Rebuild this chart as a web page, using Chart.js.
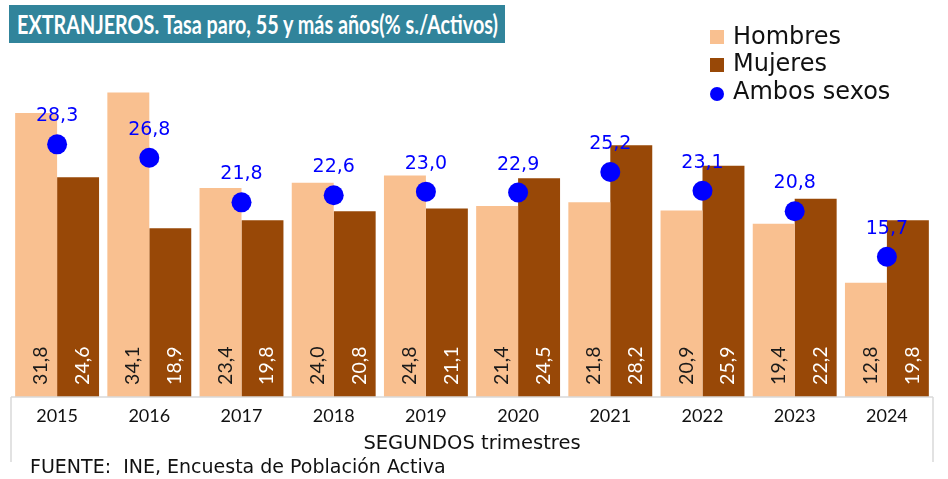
<!DOCTYPE html>
<html><head><meta charset="utf-8">
<script src="https://cdn.jsdelivr.net/npm/chart.js@4/dist/chart.umd.min.js"></script>
<style>
html,body{margin:0;padding:0;background:#fff;}
#wrap{position:relative;width:948px;height:479px;overflow:hidden;}
canvas{position:absolute;left:0;top:0;}
#title{position:absolute;left:9px;top:5px;width:496px;height:38px;background:#31849B;color:#fff;font-family:Lato;font-weight:bold;font-size:26px;line-height:38px;white-space:nowrap;padding-left:8px;box-sizing:border-box;}
#title span{display:inline-block;transform-origin:0 50%;}
.leg{position:absolute;left:733px;font-family:"DejaVu Sans";font-size:24px;line-height:28px;color:#111;white-space:nowrap;}
.sw{position:absolute;left:710px;width:14px;height:14px;}
#src{position:absolute;left:30px;top:454px;font-family:"DejaVu Sans";font-size:19px;line-height:24px;color:#111;white-space:nowrap;}
</style></head>
<body>
<div id="wrap">
<canvas id="c" width="948" height="479"></canvas>
<div id="title"><span id="tt">EXTRANJEROS. Tasa paro, 55 y más años(% s./Activos)</span></div>
<div class="sw" style="top:30px;background:#F9C090"></div><div class="leg" style="top:22px">Hombres</div>
<div class="sw" style="top:58px;background:#984807"></div><div class="leg" style="top:49px">Mujeres</div>
<div class="sw" style="top:87px;border-radius:50%;background:#0000FF"></div><div class="leg" style="top:77px">Ambos sexos</div>
<div id="src">FUENTE:&nbsp; INE, Encuesta de Población Activa</div>
</div>
<script>
const categories = ['2015','2016','2017','2018','2019','2020','2021','2022','2023','2024'];
const hombres = [31.8,34.1,23.4,24.0,24.8,21.4,21.8,20.9,19.4,12.8];
const mujeres = [24.6,18.9,19.8,20.8,21.1,24.5,28.2,25.9,22.2,19.8];
const ambos = [28.3,26.8,21.8,22.6,23.0,22.9,25.2,23.1,20.8,15.7];
const axisTitle = 'SEGUNDOS trimestres';

// fit title width
(function(){
  const s=document.getElementById('tt');
  const w=s.getBoundingClientRect().width;
  s.style.transform='scaleX('+(481/w)+')';
})();

const fmt = v => v.toFixed(1).replace('.', ',');

const labelPlugin = {
  id:'vlabels',
  afterDatasetsDraw(chart){
    const ctx = chart.ctx;
    [0,1].forEach(di=>{
      const meta = chart.getDatasetMeta(di);
      meta.data.forEach((bar,i)=>{
        const v = chart.data.datasets[di].data[i];
        ctx.save();
        ctx.translate(bar.x + 11, bar.base - 12);
        ctx.rotate(-Math.PI/2);
        ctx.font = '19.5px Lato';
        ctx.fillStyle = di===0 ? '#1a1a1a' : '#ffffff';
        ctx.textAlign = 'left';
        ctx.textBaseline = 'alphabetic';
        ctx.fillText(fmt(v), 0, 0);
        ctx.restore();
      });
    });
    const meta = chart.getDatasetMeta(2);
    meta.data.forEach((pt,i)=>{
      const v = chart.data.datasets[2].data[i];
      ctx.save();
      ctx.font = '19px "DejaVu Sans"';
      ctx.fillStyle = '#0000FF';
      ctx.textAlign = 'center';
      ctx.textBaseline = 'alphabetic';
      ctx.fillText(fmt(v), pt.x, pt.y - 23);
      ctx.restore();
    });
  }
};

const boxPlugin = {
  id:'axisbox',
  afterDraw(chart){
    const ctx = chart.ctx, a = chart.chartArea;
    ctx.save();
    ctx.strokeStyle = '#D9D9D9';
    ctx.lineWidth = 1.5;
    ctx.beginPath();
    ctx.moveTo(a.left, a.bottom); ctx.lineTo(a.right, a.bottom);
    ctx.moveTo(a.left, a.bottom); ctx.lineTo(a.left, a.bottom + 65);
    ctx.moveTo(a.right, a.bottom); ctx.lineTo(a.right, a.bottom + 65);
    ctx.stroke();
    ctx.restore();
  }
};

new Chart(document.getElementById('c'), {
  type:'bar',
  data:{
    labels: categories,
    datasets:[
      {label:'Hombres', data:hombres, backgroundColor:'#F9C090', order:2, categoryPercentage:0.91, barPercentage:1.0},
      {label:'Mujeres', data:mujeres, backgroundColor:'#984807', order:2, categoryPercentage:0.91, barPercentage:1.0},
      {label:'Ambos sexos', type:'line', data:ambos, showLine:false, pointRadius:10, pointHoverRadius:10, pointBackgroundColor:'#0000FF', pointBorderWidth:0, backgroundColor:'#0000FF', borderColor:'#0000FF', order:0}
    ]
  },
  options:{
    responsive:false,
    animation:false,
    devicePixelRatio:1,
    layout:{padding:{left:11, right:15, top:56, bottom:25}},
    plugins:{legend:{display:false}, tooltip:{enabled:false}, title:{display:false}},
    scales:{
      x:{
        grid:{display:false, drawTicks:false},
        border:{display:false},
        ticks:{font:{family:'Lato', size:18, lineHeight:1.2}, color:'#111', padding:8},
        title:{display:true, text:axisTitle, font:{family:'DejaVu Sans', size:19.5, lineHeight:1.0}, color:'#111', padding:{top:0, bottom:0}}
      },
      y:{display:false, min:0, max:38.2}
    }
  },
  plugins:[labelPlugin, boxPlugin]
});
</script>
</body></html>
